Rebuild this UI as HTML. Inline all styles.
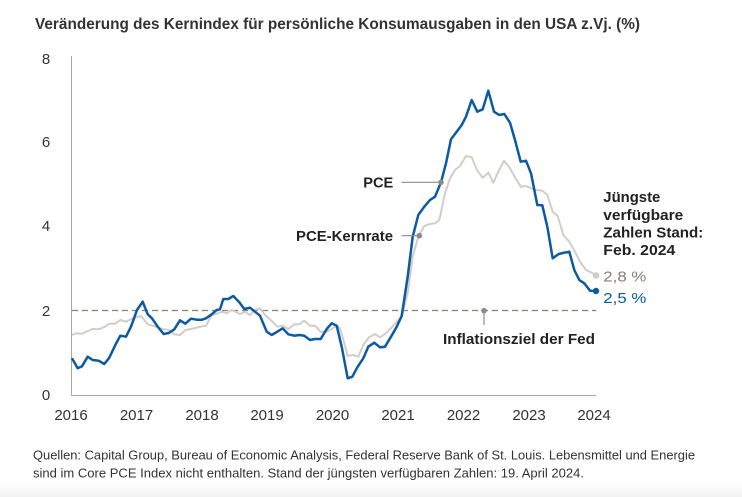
<!DOCTYPE html>
<html>
<head>
<meta charset="utf-8">
<style>
  html, body { margin:0; padding:0; background:#fff; }
  body { width:742px; height:497px; overflow:hidden; }
  svg { display:block; }
  text { font-family:"Liberation Sans", Arial, sans-serif; }
</style>
</head>
<body>
<svg width="742" height="497" viewBox="0 0 742 497" xmlns="http://www.w3.org/2000/svg">
  <defs>
    <linearGradient id="bot" x1="0" y1="0" x2="0" y2="1">
      <stop offset="0" stop-color="#ffffff"/>
      <stop offset="1" stop-color="#f2f2f2"/>
    </linearGradient>
  </defs>
  <rect x="0" y="0" width="742" height="497" fill="#ffffff"/>
  <rect x="0" y="484" width="742" height="13" fill="url(#bot)"/>

  <!-- Title -->
  <text x="35" y="29" font-size="15.5" fill="#333" font-weight="600" textLength="605" lengthAdjust="spacingAndGlyphs">Veränderung des Kernindex für persönliche Konsumausgaben in den USA z.Vj. (%)</text>

  <!-- Axes -->
  <line x1="71.5" y1="56" x2="71.5" y2="395" stroke="#a6a6a6" stroke-width="1"/>
  <line x1="71" y1="395.5" x2="596" y2="395.5" stroke="#a6a6a6" stroke-width="1"/>

  <!-- Y tick labels -->
  <g font-size="15" fill="#333" text-anchor="middle">
    <text x="46" y="64">8</text>
    <text x="46" y="147">6</text>
    <text x="46" y="231">4</text>
    <text x="46" y="316">2</text>
    <text x="46" y="400">0</text>
  </g>

  <!-- X tick labels -->
  <g font-size="15" fill="#333" text-anchor="middle">
    <text x="71" y="420">2016</text>
    <text x="136.5" y="420">2017</text>
    <text x="202" y="420">2018</text>
    <text x="267" y="420">2019</text>
    <text x="332.5" y="420">2020</text>
    <text x="398" y="420">2021</text>
    <text x="463.5" y="420">2022</text>
    <text x="529" y="420">2023</text>
    <text x="594" y="420">2024</text>
  </g>

  <!-- 2% target dashed line -->
  <line x1="72" y1="310.5" x2="596" y2="310.5" stroke="#8a7e77" stroke-width="1.3" stroke-dasharray="6,4"/>

  <!-- Core PCE (gray) -->
  <polyline fill="none" stroke="#d2cdc8" stroke-width="2" stroke-linejoin="round" points="
72,335 76,333.3 82,333.7 87.7,331 92.7,329 98.7,329.3 104.3,327 109.3,323.7 115.3,323.7 120.3,320 126,321.7 131,319.3 137,317 141,316 147.7,324.3 152.7,325.7 157.7,327.3 163.7,329.3 168.7,330 174.3,334.3 180,335 185.3,330 191,329 196.7,327.7 202,326.3 206,325.7 211.7,315 216,314 221.7,311.7 226.7,313.3 231.7,310 236.7,312.3 240,314.3 245,311.7 250,315 255,310 260,308.3 265,315 271.7,321 277.3,326.7 282.7,325.7 288.3,329 294.3,324.3 299.3,324.3 304.3,320.7 310,325.7 315,325.7 320.7,331.7 326.7,331.7 331.7,329 336.7,325.7 340,328.3 344.3,343.3 347.7,356 353.3,355 358.3,356.7 363.3,345 369,337.3 375,334 380,337.3 385,334 391,328.3 396.7,321.7 401.7,316.7 407.7,293.3 412.7,256.7 418.3,236.7 424.3,226 430,224 435,223.3 439.3,220 445,193.3 450,178.3 455,170 460,166 466,156 471.7,157.3 477.3,170.7 482.7,177.7 488.3,172.7 493.3,182.7 498.3,171.7 504,160.7 509.3,167.3 515,177.3 520.7,186.7 526,186 531,188.3 536.7,190 542.3,190.7 547.3,195 552.7,211.7 557.7,216 563.3,235 569.3,241.7 575,251.7 580,261.7 586,270 591.7,272.7 596,275"/>

  <!-- PCE (blue) -->
  <polyline fill="none" stroke="#0b5aa2" stroke-width="2.5" stroke-linejoin="round" points="
72,358.3 77.7,368.3 82,366.3 87.7,356.7 92.7,360 98.7,360.7 104.3,364 109.3,357.7 115.3,345 120.3,335.7 126,336.7 131,326.7 137,310 142.7,301.7 147.7,314.3 152,318.3 157.7,326.7 163.7,334 168.7,333 174.3,329.3 180,320.3 185.3,323.7 191,318.7 196.7,319.7 202,319.7 206,318.3 211.7,314.3 216.7,310 220,309.3 223.3,299 228.3,299 233.3,296 239.3,302.3 244.3,309 250,307.7 255,311.7 260,315.7 266.7,331.7 271.7,335 277.3,331.7 282.7,328.3 288.3,334.3 294.3,335.7 299.3,335 304.3,335.7 310,340 315,339 320.7,339 326.7,329 331.7,323.3 336.7,325.7 341.7,346.7 347.7,378.3 352.3,376.7 357.7,366.7 363.3,358.3 368.3,346.7 374.3,342.7 380,347.3 385,346.7 391,336.7 396.7,326.7 401.7,316 407.7,276.7 412.7,236.7 418.3,215 424.3,206.7 430,200 435,196.7 441,182.3 446,163.3 451,139.3 456.7,131.7 461.7,125 466,116.7 471.7,100 477.3,111.7 482.7,109.3 488.3,90.7 494,111.7 499.3,115 504.3,114 510,122.7 515,140 520.7,161.7 526,160.7 531,173.3 537.3,205 542.3,205.3 547.3,226.7 552.7,258.3 558.7,254 564.3,252.7 569.3,251.7 574.3,270 579.3,280 584.3,283.3 590,290.7 596,291"/>

  <!-- End dots -->
  <circle cx="596" cy="275.5" r="3.3" fill="#d2cdc8"/>
  <circle cx="596" cy="291" r="3.2" fill="#0b5aa2"/>

  <!-- Annotations -->
  <line x1="401.5" y1="182.3" x2="441" y2="182.3" stroke="#8c8c8c" stroke-width="1.2"/>
  <circle cx="441" cy="182.3" r="2.8" fill="#8c8c8c"/>
  <text x="363.3" y="187.5" font-size="14.5" font-weight="bold" fill="#222" textLength="30" lengthAdjust="spacingAndGlyphs">PCE</text>

  <line x1="401.5" y1="235.7" x2="419.3" y2="235.7" stroke="#8c8c8c" stroke-width="1.2"/>
  <circle cx="419.3" cy="235.7" r="2.8" fill="#8c8c8c"/>
  <text x="296" y="241" font-size="14.5" font-weight="bold" fill="#222" textLength="97" lengthAdjust="spacingAndGlyphs">PCE-Kernrate</text>

  <line x1="484" y1="310.7" x2="484" y2="325" stroke="#8c8c8c" stroke-width="1.2"/>
  <circle cx="484" cy="310.7" r="2.8" fill="#8c8c8c"/>
  <text x="443" y="344" font-size="14.5" font-weight="bold" fill="#222" textLength="152" lengthAdjust="spacingAndGlyphs">Inflationsziel der Fed</text>

  <g font-size="14.5" font-weight="bold" fill="#222">
    <text x="603.3" y="202" textLength="57" lengthAdjust="spacingAndGlyphs">Jüngste</text>
    <text x="603.3" y="220" textLength="80" lengthAdjust="spacingAndGlyphs">verfügbare</text>
    <text x="603.3" y="237.7" textLength="100" lengthAdjust="spacingAndGlyphs">Zahlen Stand:</text>
    <text x="603.3" y="255" textLength="72" lengthAdjust="spacingAndGlyphs">Feb. 2024</text>
  </g>
  <text x="603.3" y="281.3" font-size="15" fill="#8a7e77" textLength="43" lengthAdjust="spacingAndGlyphs">2,8 %</text>
  <text x="603.3" y="303" font-size="15" fill="#0b5aa2" textLength="43" lengthAdjust="spacingAndGlyphs">2,5 %</text>

  <!-- Footer -->
  <g font-size="12.5" fill="#333">
    <text x="33" y="459.5" textLength="662" lengthAdjust="spacingAndGlyphs">Quellen: Capital Group, Bureau of Economic Analysis, Federal Reserve Bank of St. Louis. Lebensmittel und Energie</text>
    <text x="33" y="477.5" textLength="551" lengthAdjust="spacingAndGlyphs">sind im Core PCE Index nicht enthalten. Stand der jüngsten verfügbaren Zahlen: 19. April 2024.</text>
  </g>
</svg>
</body>
</html>
